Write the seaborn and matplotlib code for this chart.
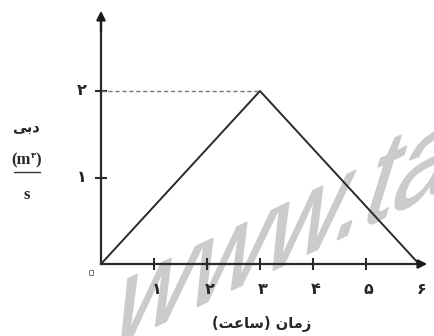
import matplotlib
matplotlib.use('Agg')
import matplotlib.pyplot as plt
import matplotlib.patheffects as pe
import seaborn as sns
import pandas as pd
from matplotlib.textpath import TextPath
from matplotlib.patches import PathPatch
from matplotlib.font_manager import FontProperties
from matplotlib.transforms import Affine2D, IdentityTransform

# Data: triangular hydrograph
time_h = [0, 3, 6]
flow = [0, 2, 0]
x_ticks = [1, 2, 3, 4, 5, 6]
x_tick_labels = ['۱', '۲', '۳', '۴', '۵', '۶']
y_ticks = [1, 2]
y_tick_labels = ['۱', '۲']
zero_label = '۰'
peak_time, peak_flow = 3, 2

# labels (logical text) and their visual (shaped, left-to-right) forms
x_label = 'زمان (ساعت)'
x_label_visual = '(\uFE96\uFECB\uFE8E\uFEB3) \uFEE5\uFE8E\uFEE3\uFEAF'
y_label = 'دبی'
y_label_visual = '\uFEF0\uFE91\uFEA9'

W, H = 435, 336
sns.set_style('white')
plt.rcParams['font.family'] = ['DejaVu Sans']

fig = plt.figure(figsize=(W / 100, H / 100), dpi=100)
ax = fig.add_axes([0, 0, 1, 1])

# pixel mapping: origin at (101, 264), 53 px per hour, 86.5 px per unit flow
x0, y0, sx, sy = 101, 264, 53, 86.5
ax.set_xlim(-x0 / sx, (W - x0) / sx)
ax.set_ylim((y0 - H) / sy, y0 / sy)

def px(x, y):
    return x / W, 1 - y / H

# watermark (sheared grey text, behind the marks)
tp = TextPath((0, 0), 'www.tak', size=1, prop=FontProperties(family='Liberation Sans'))
wm = Affine2D.from_values(105, 50, 42, 135, 106, -14)
ax.add_patch(PathPatch(tp, transform=wm + IdentityTransform(), facecolor='#cbcbcb',
                       edgecolor='#cbcbcb', lw=1.0, zorder=0.5))

df = pd.DataFrame({'time': time_h, 'flow': flow})
sns.lineplot(data=df, x='time', y='flow', color='#2a2a2a', lw=1.4, ax=ax, zorder=3)

# dashed peak guide
ax.plot([0, peak_time], [peak_flow, peak_flow], ls=(0, (3, 2)), color='#777777', lw=1.0, zorder=2)

# axes as arrows
xmax = (430 - x0) / sx
ymax = (y0 - 8) / sy
for s in ['top', 'right']:
    ax.spines[s].set_visible(False)
ax.spines['left'].set_position(('data', 0))
ax.spines['bottom'].set_position(('data', 0))
ax.spines['left'].set_bounds(0, ymax - 0.1)
ax.spines['bottom'].set_bounds(0, xmax - 0.15)
for s in ['left', 'bottom']:
    ax.spines[s].set_linewidth(1.6)
    ax.spines[s].set_color('#2a2a2a')
ax.annotate('', xy=(xmax, 0), xytext=(xmax - 0.3, 0),
            arrowprops=dict(arrowstyle='-|>', color='#1a1a1a', lw=1.6, mutation_scale=13))
ax.annotate('', xy=(0, ymax), xytext=(0, ymax - 0.3),
            arrowprops=dict(arrowstyle='-|>', color='#1a1a1a', lw=1.6, mutation_scale=13))

ax.set_xticks(x_ticks[:-1])
ax.set_xticklabels([])
ax.set_yticks(y_ticks)
ax.set_yticklabels([])
ax.tick_params(axis='both', direction='inout', length=9, width=1.5, color='#2a2a2a',
               bottom=True, left=True)
ax.set_xlabel('')
ax.set_ylabel('')

# tick labels (Persian digits)
for x, lab in zip(x_ticks, x_tick_labels):
    ax.text(x + 0.05, -0.3, lab, ha='center', va='center', fontsize=11.5, fontweight='bold', zorder=4)
for y, lab in zip(y_ticks, y_tick_labels):
    ax.text(-0.36, y, lab, ha='center', va='center', fontsize=11.5, fontweight='bold', zorder=4)
ax.text(-0.17, -0.1, zero_label, ha='center', va='center', fontsize=20, color='white',
        path_effects=[pe.withStroke(linewidth=1.2, foreground='#555555')])

# axis titles
ax.text(*px(262, 324), x_label_visual, transform=ax.transAxes, ha='center', va='center',
        fontsize=10.5, fontweight='bold', zorder=4)
fig.text(*px(26, 127), y_label_visual, ha='center', va='center', fontsize=10.5, fontweight='bold')
fig.text(*px(21, 160), '(m', ha='center', va='center', fontsize=12, fontweight='bold',
         family='Liberation Serif')
fig.text(*px(33, 155), '۳', ha='center', va='center', fontsize=6, fontweight='bold')
fig.text(*px(38, 160), ')', ha='center', va='center', fontsize=12, fontweight='bold',
         family='Liberation Serif')
fig.add_artist(plt.Line2D([14 / W, 40 / W], [1 - 172 / H, 1 - 172 / H], color='#333333', lw=1.0))
fig.text(*px(27, 195), 's', ha='center', va='center', fontsize=12, fontweight='bold',
         family='Liberation Serif')

fig.savefig('out.png', dpi=100)
